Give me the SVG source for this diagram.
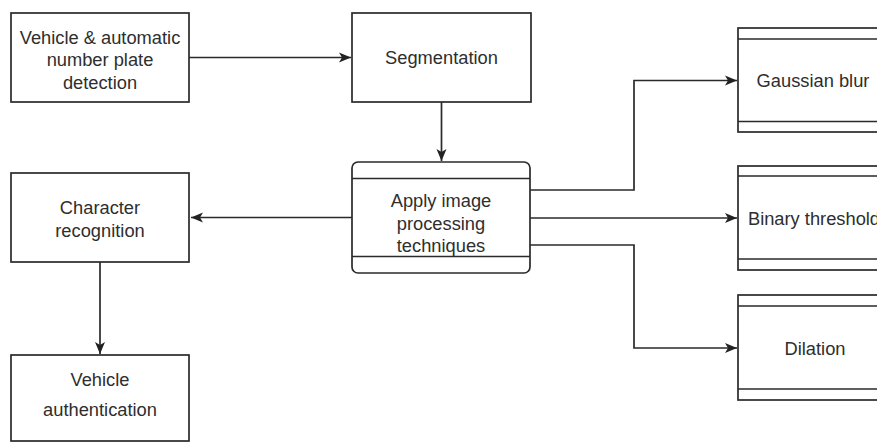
<svg xmlns="http://www.w3.org/2000/svg" width="877" height="444" viewBox="0 0 877 444">
<defs>
<style>
.box{fill:#fff;stroke:#2a2a2a;stroke-width:1.7}
.ln{fill:none;stroke:#2a2a2a;stroke-width:1.7}
.t{font-family:"Liberation Sans",Arial,sans-serif;font-size:18.3px;fill:#2e2e2e;text-anchor:middle}
</style>
<marker id="ah" viewBox="0 0 12 12" refX="12" refY="6" markerWidth="12" markerHeight="12" markerUnits="userSpaceOnUse" orient="auto">
<path d="M0,1 L12,6 L0,11 L3,6 Z" fill="#222"/>
</marker>
</defs>
<rect width="877" height="444" fill="#fff"/>
<g id="connectors">
<path class="ln" d="M189,57.5 H351" marker-end="url(#ah)"/>
<path class="ln" d="M441.5,102 V161" marker-end="url(#ah)"/>
<path class="ln" d="M352,217.5 H191" marker-end="url(#ah)"/>
<path class="ln" d="M100,262 V354" marker-end="url(#ah)"/>
<path class="ln" d="M530,190 H634 V80.5 H737" marker-end="url(#ah)"/>
<path class="ln" d="M530,218 H737" marker-end="url(#ah)"/>
<path class="ln" d="M530,245 H634 V348 H737" marker-end="url(#ah)"/>
</g>
<g id="n-detect">
<rect class="box" x="11" y="13" width="178" height="89"/>
<text class="t" x="100" y="43.5">Vehicle &amp; automatic</text>
<text class="t" x="100" y="66">number plate</text>
<text class="t" x="100" y="88.5">detection</text>
</g>
<g id="n-seg">
<rect class="box" x="352" y="13" width="179" height="89"/>
<text class="t" x="441.5" y="64">Segmentation</text>
</g>
<g id="n-apply">
<rect class="box" x="352" y="162" width="178" height="111" rx="6"/>
<path class="ln" d="M352,178.5 H530 M352,256.5 H530"/>
<text class="t" x="441" y="207">Apply image</text>
<text class="t" x="441" y="229.5">processing</text>
<text class="t" x="441" y="252">techniques</text>
</g>
<g id="n-char">
<rect class="box" x="11" y="173" width="178" height="89"/>
<text class="t" x="100" y="214">Character</text>
<text class="t" x="100" y="236.5">recognition</text>
</g>
<g id="n-auth">
<rect class="box" x="11" y="355" width="178" height="86"/>
<text class="t" x="100" y="386">Vehicle</text>
<text class="t" x="100" y="416">authentication</text>
</g>
<g id="n-gauss">
<rect class="box" x="738" y="28" width="160" height="104"/>
<path class="ln" d="M738,39 H898 M738,121.5 H898"/>
<text class="t" x="813" y="87">Gaussian blur</text>
</g>
<g id="n-binary">
<rect class="box" x="738" y="166" width="160" height="104"/>
<path class="ln" d="M738,176 H898 M738,259 H898"/>
<text class="t" x="814" y="224.5">Binary threshold</text>
</g>
<g id="n-dilation">
<rect class="box" x="738" y="295" width="160" height="105"/>
<path class="ln" d="M738,306 H898 M738,389 H898"/>
<text class="t" x="815" y="354.5">Dilation</text>
</g>
</svg>
